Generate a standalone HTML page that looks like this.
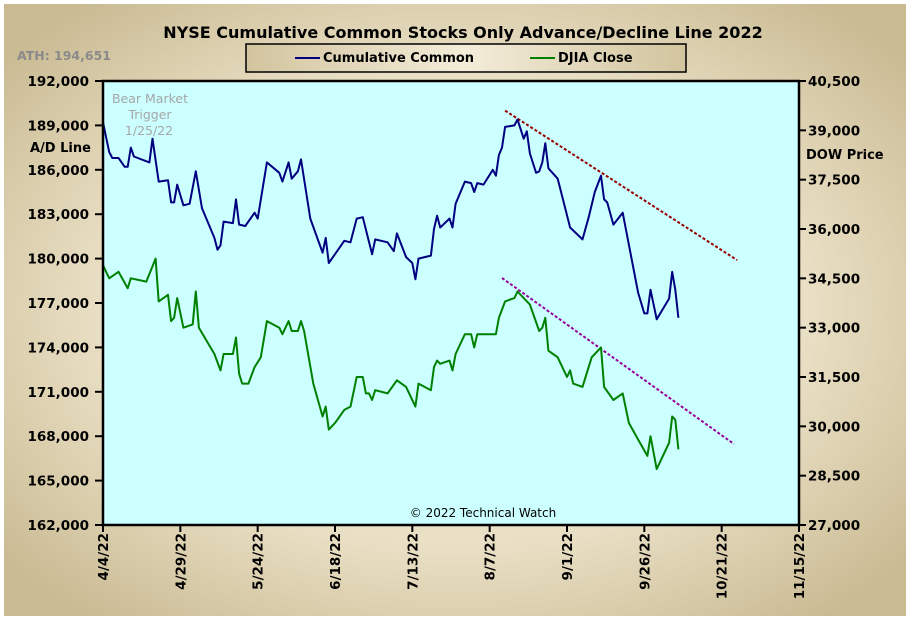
<!DOCTYPE html>
<html><head><meta charset="utf-8"><style>
html,body{margin:0;padding:0;background:#fff;}
#wrap{position:relative;width:911px;height:623px;overflow:hidden;}
svg text{font-family:Verdana,"DejaVu Sans","Liberation Sans",sans-serif;}
</style></head><body>
<div id="wrap">
<svg id="chart" width="911" height="623" xmlns="http://www.w3.org/2000/svg">
<defs>
<radialGradient id="bg" cx="50%" cy="50%" r="65%">
<stop offset="0%" stop-color="#f4eedd"/><stop offset="60%" stop-color="#e9dfc4"/><stop offset="100%" stop-color="#c9ba92"/>
</radialGradient>
<linearGradient id="lg" x1="0" x2="1" y1="0" y2="0">
<stop offset="0%" stop-color="#d2c49e"/><stop offset="50%" stop-color="#f3ecd9"/><stop offset="100%" stop-color="#d2c49e"/>
</linearGradient>
</defs>
<rect x="4" y="4" width="902" height="612" fill="url(#bg)"/>
<text x="463" y="38" text-anchor="middle" font-size="16" font-weight="bold" fill="#000">NYSE Cumulative  Common Stocks Only Advance/Decline Line 2022</text>
<g>
<rect x="246" y="44" width="440" height="28" fill="url(#lg)" stroke="#000" stroke-width="1.5"/>
<line x1="295" y1="58" x2="320" y2="58" stroke="#000080" stroke-width="2"/>
<text x="323" y="62" font-size="13" font-weight="bold">Cumulative Common</text>
<line x1="530" y1="58" x2="555" y2="58" stroke="#008000" stroke-width="2"/>
<text x="558" y="62" font-size="13" font-weight="bold">DJIA Close</text>
</g>
<text x="17" y="60" font-size="12.5" font-weight="bold" fill="#8a8a8a">ATH: 194,651</text>
<rect x="103" y="81" width="696" height="444" fill="#ccffff"/>
<g fill="#a6a6a6" font-size="12.5" text-anchor="middle">
<text x="150" y="103">Bear Market</text><text x="150" y="119">Trigger</text><text x="149" y="135">1/25/22</text>
</g>
<text x="30" y="152" font-size="13" font-weight="bold">A/D Line</text>
<text x="806" y="159" font-size="13" font-weight="bold">DOW Price</text>
<text x="483" y="517" text-anchor="middle" font-size="12" fill="#000" font-family="Liberation Sans">© 2022 Technical Watch</text>
<g id="axes"></g>
<g id="series"></g>
<rect x="103" y="81" width="696" height="444" fill="none" stroke="#000" stroke-width="2.5"/>
</svg>
</div>
<script>
const adDays=[0,2,3,5,7,8,9,10,15,16,18,21,22,23,24,26,28,30,32,36,37,38,39,42,43,44,46,49,50,53,57,58,60,61,63,64,67,71,72,73,75,78,80,82,84,87,88,92,94,95,98,100,101,102,106,107,108,109,112,113,114,117,119,120,121,123,126,127,128,129,130,133,134,136,137,138,140,141,142,143,144,147,151,155,157,159,161,162,163,165,168,173,175,176,177,179,183,184,185,186];
const adValues=[189200,187200,186800,186800,186200,186200,187500,186900,186500,188100,185200,185300,183800,183800,185000,183600,183700,185900,183400,181400,180600,180900,182500,182400,184000,182300,182200,183100,182700,186500,185800,185200,186500,185400,185900,186700,182700,180400,181400,179700,180300,181200,181100,182700,182800,180300,181300,181100,180500,181700,180100,179700,178600,180000,180200,182000,182900,182100,182700,182100,183700,185200,185100,184500,185100,185000,186000,185600,187000,187500,188900,189000,189400,188100,188600,187100,185800,185900,186500,187800,186100,185400,182100,181300,182800,184500,185600,184000,183800,182300,183100,177700,176300,176300,177900,175900,177300,179100,177900,176000];
const djDays=[0,2,5,8,9,14,17,18,21,22,23,24,26,29,30,31,36,38,39,42,43,44,45,47,49,51,53,57,58,60,61,63,64,65,68,71,72,73,75,78,80,82,84,85,86,87,88,92,95,98,101,102,106,107,108,109,112,113,114,117,119,120,121,123,127,128,130,133,134,138,141,142,143,144,147,150,151,152,155,158,161,162,165,168,170,173,176,177,179,183,184,185,186];
const djValues=[34900,34500,34700,34200,34500,34400,35100,33800,34000,33200,33300,33900,33000,33100,34100,33000,32200,31700,32200,32200,32700,31600,31300,31300,31800,32100,33200,33000,32800,33200,32900,32900,33200,32900,31300,30300,30600,29900,30100,30500,30600,31500,31500,31000,31000,30800,31100,31000,31400,31200,30600,31300,31100,31800,32000,31900,32000,31700,32200,32800,32800,32400,32800,32800,32800,33300,33800,33900,34100,33700,32900,33000,33300,32300,32100,31500,31700,31300,31200,32100,32400,31200,30800,31000,30100,29600,29100,29700,28700,29500,30300,30200,29300];
const adTrendDays=[130,205];
const adTrendValues=[190000,179900];
const djTrendDays=[129,204];
const djTrendValues=[34510,29460];
const leftTicks=[162000,165000,168000,171000,174000,177000,180000,183000,186000,189000,192000];
const rightTicks=[27000,28500,30000,31500,33000,34500,36000,37500,39000,40500];
const xTickDays=[0,25,50,75,100,125,150,175,200,225];
const xTickLabels=["4/4/22","4/29/22","5/24/22","6/18/22","7/13/22","8/7/22","9/1/22","9/26/22","10/21/22","11/15/22"];

const X0=103,X1=799,Y0=525,Y1=81;
const xs=d=>X0+(X1-X0)*d/225;
const yL=v=>Y0-(Y0-Y1)*(v-162000)/30000;
const yR=v=>Y0-(Y0-Y1)*(v-27000)/13500;
const NS="http://www.w3.org/2000/svg";
function mk(tag,attrs,parent){const e=document.createElementNS(NS,tag);for(const k in attrs)e.setAttribute(k,attrs[k]);parent.appendChild(e);return e;}
const axes=document.getElementById('axes'),series=document.getElementById('series');

leftTicks.forEach(v=>{
  const y=yL(v);
  const t=mk('line',{x1:X0-8,x2:X0,y1:y,y2:y,stroke:'#000','stroke-width':2},axes);
  
  
  const tx=mk('text',{x:89,y:y+5,'text-anchor':'end','font-size':13.5,'font-weight':'bold'},axes);
  tx.textContent=v.toLocaleString('en-US');
  
  
});
rightTicks.forEach(v=>{
  const y=yR(v);
  const t=mk('line',{x1:X1,x2:X1+7,y1:y,y2:y,stroke:'#000','stroke-width':2},axes);
  
  
  const tx=mk('text',{x:808,y:y+5,'font-size':13.5,'font-weight':'bold'},axes);
  tx.textContent=v.toLocaleString('en-US');
  
  
});
xTickDays.forEach((d,i)=>{
  const x=xs(d);
  const t=mk('line',{x1:x,x2:x,y1:Y0,y2:Y0+7,stroke:'#000','stroke-width':2},axes);
  
  
  const tx=mk('text',{x:0,y:0,'text-anchor':'end','font-size':13.5,'font-weight':'bold',transform:`translate(${x+5},533) rotate(-90)`},axes);
  tx.textContent=xTickLabels[i];
  
  
});
function line(days,vals,yf,color,w,name,dash){
  const pts=days.map((d,i)=>xs(d).toFixed(1)+','+yf(vals[i]).toFixed(1)).join(' ');
  const a={points:pts,fill:'none',stroke:color,'stroke-width':w,'stroke-linejoin':'round'};
  if(dash)a['stroke-dasharray']=dash;
  const p=mk('polyline',a,series);
  
  
}
line(adTrendDays,adTrendValues,yL,'#990000',2,'ad-trendline','3,2');
line(djTrendDays,djTrendValues,yR,'#990099',2,'djia-trendline','3,2');
line(djDays,djValues,yR,'#008000',2,'djia-close-line');
line(adDays,adValues,yL,'#000080',2,'cumulative-common-line');
</script>
</body></html>
